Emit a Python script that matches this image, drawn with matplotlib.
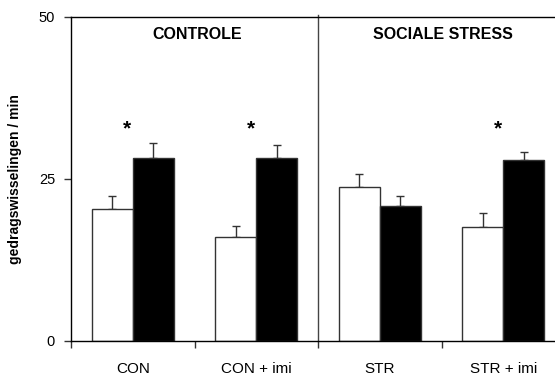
import matplotlib
matplotlib.use("Agg")
import matplotlib.pyplot as plt
import numpy as np

plt.rcParams['font.family'] = ['Liberation Sans', 'DejaVu Sans']

groups = ["CON", "CON + imi", "STR", "STR + imi"]
white_vals = [20.4, 16.0, 23.8, 17.6]
white_err = [2.0, 1.7, 2.0, 2.1]
black_vals = [28.3, 28.3, 20.8, 28.0]
black_err = [2.2, 1.9, 1.6, 1.1]
stars = [True, True, False, True]
panel_titles = ["CONTROLE", "SOCIALE STRESS"]
ylabel = "gedragswisselingen / min"
yticks = [0, 25, 50]

fig = plt.figure(figsize=(5.55, 3.76), dpi=100)
ax = fig.add_axes([71/555, 1-341/376, 1-71/555, (341-17)/376])

unit = 123.5
ax.set_xlim(0, (555-71)/unit)
ax.set_ylim(0, 50)

centers = np.arange(len(groups)) + 0.5
w = 0.333
edge = '#333333'
ax.bar(centers - w/2, white_vals, w, color='white', edgecolor=edge, lw=1.0, zorder=2)
ax.bar(centers + w/2, black_vals, w, color='black', edgecolor=edge, lw=1.0, zorder=2)
ax.errorbar(centers - w/2, white_vals, yerr=[np.zeros(4), white_err], fmt='none',
            ecolor=edge, elinewidth=1.0, capsize=3, capthick=1.0, zorder=1)
ax.errorbar(centers + w/2, black_vals, yerr=[np.zeros(4), black_err], fmt='none',
            ecolor=edge, elinewidth=1.0, capsize=3, capthick=1.0, zorder=1)

for c, s in zip(centers, stars):
    if s:
        ax.text(c - 0.045, 31.2, '*', ha='center', va='bottom', fontsize=15, fontweight='bold')

ax.axvline(2, ymin=0, ymax=1.006, color='#444444', lw=1.0, clip_on=False)

ax.text(1.02, 47.3, panel_titles[0], ha='center', va='center', fontsize=11.5, fontweight='bold')
ax.text(3.01, 47.3, panel_titles[1], ha='center', va='center', fontsize=11.5, fontweight='bold')

ax.spines['right'].set_visible(False)
for s in ['left', 'bottom', 'top']:
    ax.spines[s].set_color('black')
    ax.spines[s].set_linewidth(1.0)

ax.set_yticks(yticks)
ax.set_yticklabels([str(v) for v in yticks], fontsize=10.5)
ax.set_xticks([0, 1, 2, 3])
ax.set_xticklabels([])
ax.set_xticks(centers, minor=True)
ax.set_xticklabels(groups, minor=True, fontsize=11)
ax.tick_params(axis='x', which='minor', length=0, pad=15)
ax.tick_params(axis='both', which='major', direction='out', length=5, width=1.0, color='#333333')
ax.tick_params(axis='y', pad=6.5)

ax.set_ylabel(ylabel, fontsize=10, fontweight='bold', labelpad=12)

fig.savefig("out.png", dpi=100)
